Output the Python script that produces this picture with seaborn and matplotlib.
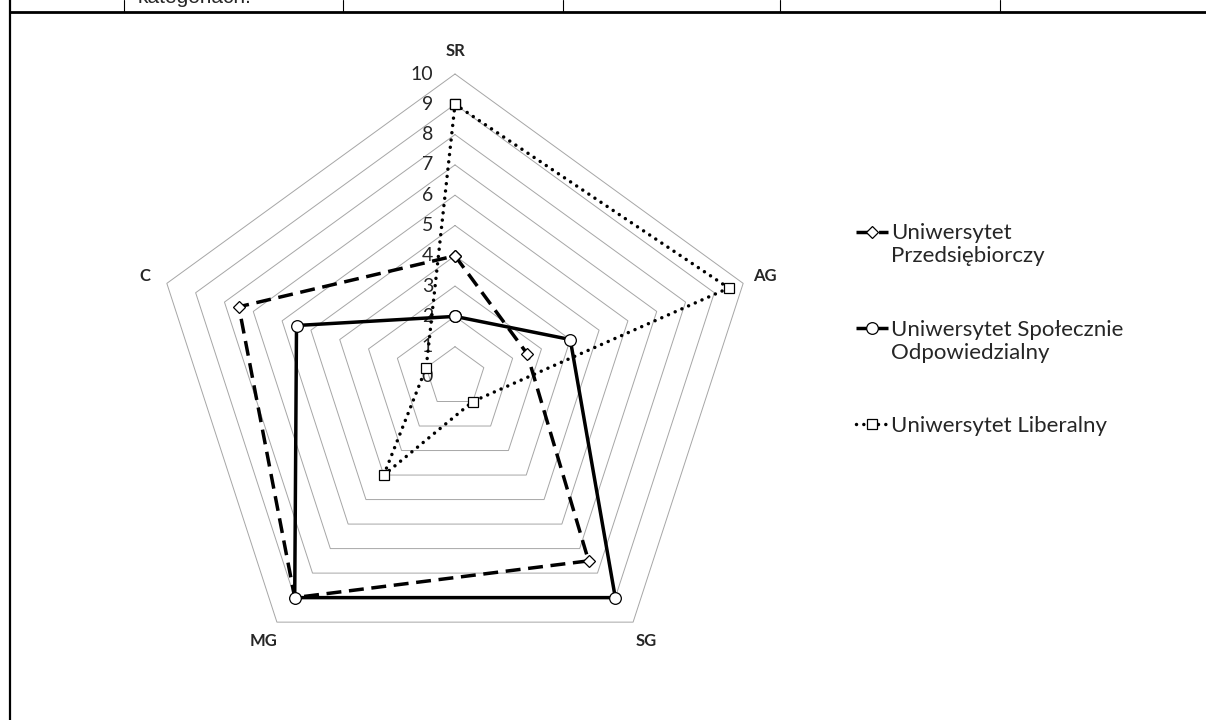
import numpy as np
import seaborn as sns
import matplotlib.pyplot as plt
from matplotlib.lines import Line2D
from matplotlib.legend_handler import HandlerLine2D

# dane wykresu radarowego
kategorie = ["SR", "AG", "SG", "MG", "C"]
przedsiebiorczy = [4, 2.5, 7.5, 9, 7.5]
spolecznie = [2, 4, 9, 9, 5.5]
liberalny = [9, 9.5, 1, 4, 1]
nazwy = ["Uniwersytet\nPrzedsiębiorczy",
         "Uniwersytet Społecznie\nOdpowiedzialny",
         "Uniwersytet Liberalny"]
poziomy = list(range(0, 11))

sns.set_theme(style="white")
plt.rcParams["font.family"] = ["Lato", "DejaVu Sans"]

W, H = 1206, 720
fig = plt.figure(figsize=(W / 100, H / 100), dpi=100)

# os w jednostkach wykresu (1 jednostka = 30.3 px), srodek w (455, 377)
jedn = 30.3
cx, cy = 455, 377
xl, xr, yb, yt = -14.5, 14.5, -11.2, 12.0
ax = fig.add_axes([(cx + xl * jedn) / W, (H - cy + yb * jedn) / H,
                   (xr - xl) * jedn / W, (yt - yb) * jedn / H])
ax.set_xlim(xl, xr)
ax.set_ylim(yb, yt)
ax.axis("off")

n = len(kategorie)
katy = np.pi / 2 - np.arange(n) * 2 * np.pi / n


def wsp(wartosci):
    r = np.append(wartosci, wartosci[0])
    t = np.append(katy, katy[0])
    return r * np.cos(t), r * np.sin(t)


# siatka - pieciokaty
for v in poziomy[1:]:
    gx, gy = wsp(np.full(n, v))
    ax.plot(gx, gy, color="#A6A6A6", lw=0.7, zorder=1)

# etykiety osi wartosci
for v in poziomy:
    ax.text(-0.72, v, str(v), ha="right", va="center", fontsize=14, zorder=2)

# etykiety kategorii
for k, t in zip(kategorie, katy):
    ax.text(10.75 * np.cos(t), 10.75 * np.sin(t), k, ha="center", va="center",
            fontsize=12, fontweight="bold")

# serie
style = [
    dict(marker="D", ms=6.4, dashes=(4.3, 2.2), cap="butt"),
    dict(marker="o", ms=8.4, dashes=None, cap="butt"),
    dict(marker="s", ms=6.8, dashes=(0.01, 2.1), cap="round"),
]
linie = []
for wart, nazwa, st in zip([przedsiebiorczy, spolecznie, liberalny], nazwy, style):
    sx, sy = wsp(np.array(wart, dtype=float))
    sns.lineplot(x=sx, y=sy, sort=False, estimator=None, ax=ax, color="black",
                 linewidth=2.5, marker=st["marker"], markersize=st["ms"],
                 markerfacecolor="white", markeredgecolor="black",
                 markeredgewidth=0.9, legend=False, zorder=3)
    ln = ax.lines[-1]
    if st["dashes"] is not None:
        ln.set_dashes(st["dashes"])
    ln.set_dash_capstyle(st["cap"])
    ln.set_solid_capstyle("butt")
    linie.append(ln)


class UniesionyUchwyt(HandlerLine2D):
    # uchwyt legendy na wysokosci pierwszej linii tekstu
    def __init__(self, lift, **kw):
        super().__init__(**kw)
        self.lift = lift

    def create_artists(self, legend, orig_handle, xdescent, ydescent,
                       width, height, fontsize, trans):
        return super().create_artists(legend, orig_handle, xdescent,
                                      ydescent - 2 * self.lift * fontsize,
                                      width, height, fontsize, trans)


mapa = {linie[0]: UniesionyUchwyt(0.6), linie[1]: UniesionyUchwyt(0.6)}
fig.legend(linie, nazwy, loc="upper left", bbox_to_anchor=(845 / W, 1 - 212 / H),
           frameon=False, fontsize=16, handlelength=1.45, handletextpad=0.12,
           labelspacing=2.4, borderpad=0, handler_map=mapa)

# fragment tabeli dokumentu
fig.add_artist(Line2D([10 / W, 1], [1 - 12 / H, 1 - 12 / H], color="black", lw=2))
fig.add_artist(Line2D([10 / W, 10 / W], [0, 1], color="black", lw=1.6))
for xv in [124, 343, 563, 780, 1000]:
    fig.add_artist(Line2D([xv / W, xv / W], [1 - 12 / H, 1], color="black", lw=0.8))
fig.text(138 / W, 1 - 3 / H, "kategoriach.", va="baseline", fontsize=15,
         family=["Liberation Sans", "DejaVu Sans"])

fig.savefig("out.png", dpi=100)
